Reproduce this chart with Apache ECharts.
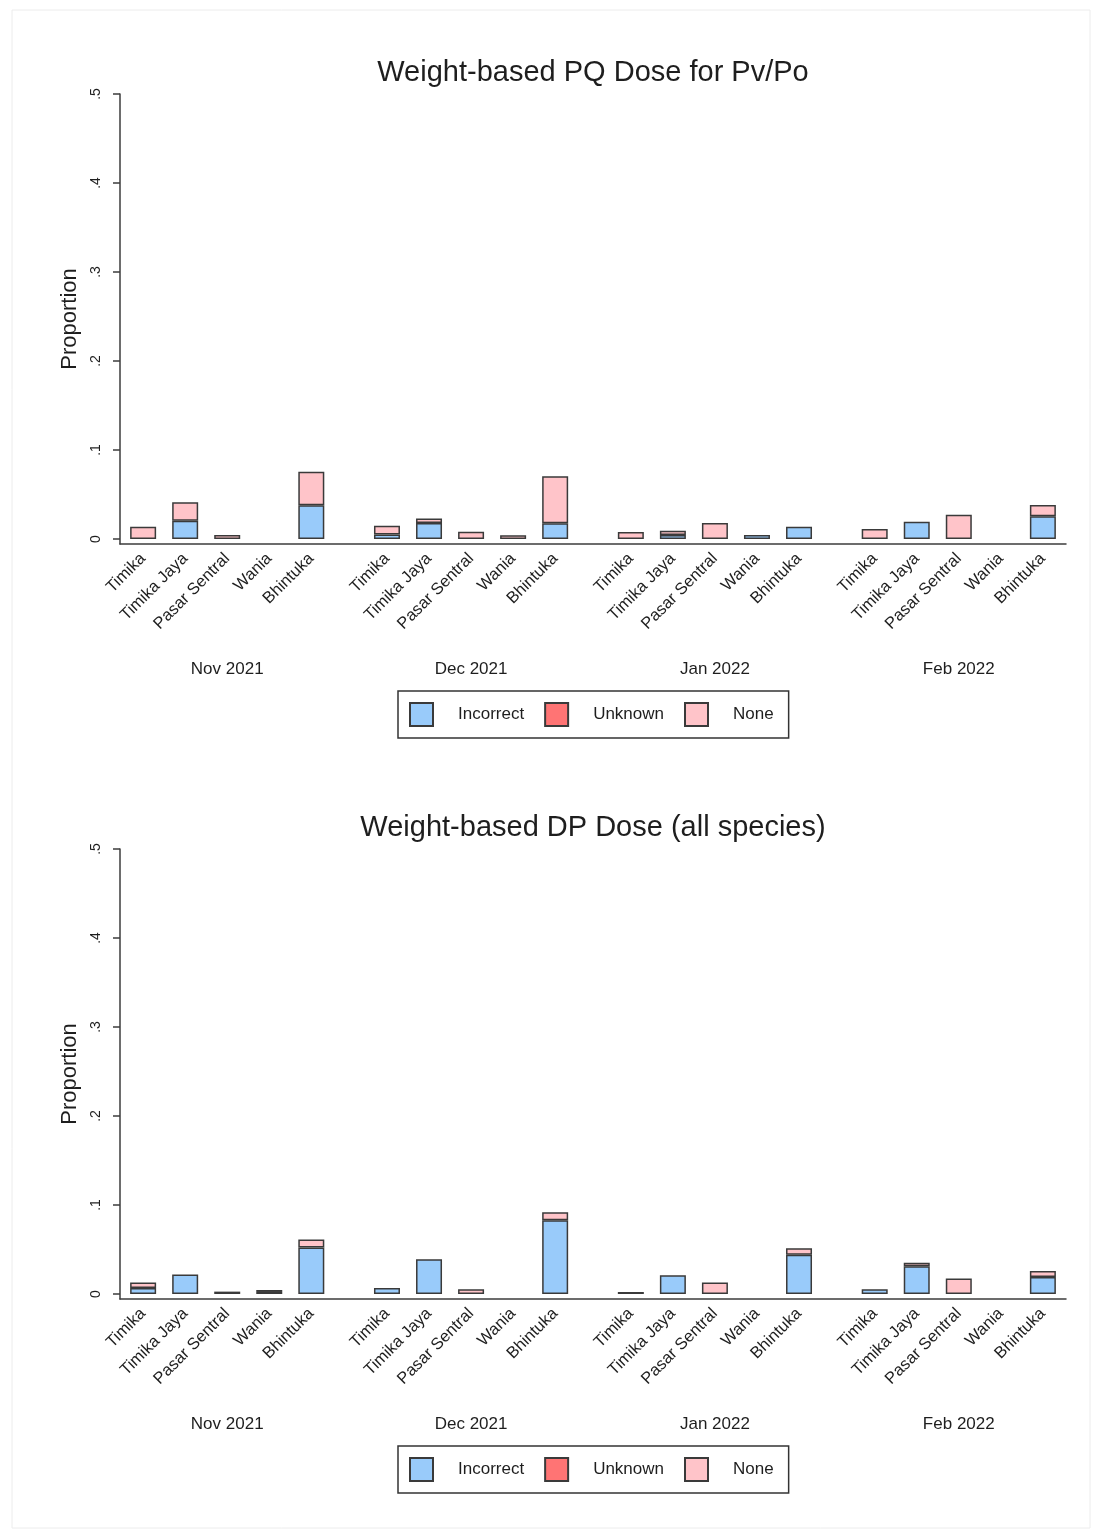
<!DOCTYPE html>
<html>
<head>
<meta charset="utf-8">
<title>Weight-based dosing</title>
<script src="https://cdn.jsdelivr.net/npm/echarts@6/dist/echarts.min.js"></script>
<style>
  html, body { margin: 0; padding: 0; background: #ffffff; }
  #chart { width: 1093px; height: 1535px; }
</style>
</head>
<body>
<div id="chart"></div>
<script>
// Health facilities (one bar each) and the survey months they are grouped by
const sites = ['Timika', 'Timika Jaya', 'Pasar Sentral', 'Wania', 'Bhintuka'];
const months = ['Nov 2021', 'Dec 2021', 'Jan 2022', 'Feb 2022'];
const categories = ['Incorrect', 'Unknown', 'None'];

const yTickValues = [0, 0.1, 0.2, 0.3, 0.4, 0.5];
const yTickLabels = ['0', '.1', '.2', '.3', '.4', '.5'];

const panelTitles = ['Weight-based PQ Dose for Pv/Po', 'Weight-based DP Dose (all species)'];

// Proportions, month by month, sites in the order above
const pqIncorrect = [0, 0.0205, 0, 0, 0.038,
                     0.005, 0.018, 0, 0, 0.0177,
                     0, 0.0045, 0, 0.0045, 0.0138,
                     0, 0.0195, 0, 0, 0.0255];
const pqUnknown   = [0, 0, 0, 0, 0,
                     0, 0, 0, 0, 0,
                     0, 0, 0, 0, 0,
                     0, 0, 0, 0, 0];
const pqNone      = [0.0138, 0.0207, 0.0045, 0, 0.0377,
                     0.010, 0.005, 0.0082, 0.0041, 0.0527,
                     0.0079, 0.0049, 0.018, 0, 0,
                     0.0112, 0, 0.0273, 0, 0.0127];

const dpIncorrect = [0.0068, 0.0219, 0, 0.0023, 0.0523,
                     0.0068, 0.0391, 0, 0, 0.0828,
                     0.0023, 0.021, 0, 0, 0.044,
                     0.0053, 0.0312, 0, 0, 0.0192];
const dpUnknown   = [0, 0, 0, 0, 0,
                     0, 0, 0, 0, 0,
                     0, 0, 0, 0, 0,
                     0, 0, 0, 0, 0];
const dpNone      = [0.006, 0, 0.0027, 0.0022, 0.009,
                     0, 0, 0.0053, 0, 0.009,
                     0, 0, 0.0128, 0, 0.0075,
                     0, 0.0038, 0.0174, 0, 0.0068];

const panels = [
  { title: panelTitles[0], values: [pqIncorrect, pqUnknown, pqNone] },
  { title: panelTitles[1], values: [dpIncorrect, dpUnknown, dpNone] }
];

// ---- layout ----
const FONT = "'Liberation Sans', Arial, Helvetica, sans-serif";
const INK = '#1e1e1e';
const AXIS = '#3c3c3c';
const EDGE = '#3a3a3a';
const FILL = { Incorrect: '#99cbfa', Unknown: '#ff7474', None: '#ffc4c9' };

// The x axis is a fine band scale: bars sit every BAR_STEP bands and the
// month groups start every GROUP_STEP bands, which leaves a wider gap between months.
const N_BANDS = 225, FIRST = 5, BAR_STEP = 10, GROUP_STEP = 58;
const bands = Array.from({ length: N_BANDS }, (_, k) => 'b' + k);
const barBand = [];                  // band index of each bar, in data order
const siteAt = {}, monthAt = {};
months.forEach((m, g) => {
  sites.forEach((s, i) => {
    const b = FIRST + g * GROUP_STEP + i * BAR_STEP;
    barBand.push(b);
    siteAt[b] = s;
  });
  monthAt[FIRST + g * GROUP_STEP + 2 * BAR_STEP] = m;
});

const Y_MIN = -0.0056;              // small gap between zero and the x axis line
const PANEL_TOP = [94, 849];
const PLOT_H = 450;

function yLabel(v) {
  const k = yTickValues.findIndex(t => Math.abs(t - v) < 1e-9);
  return k < 0 ? '' : yTickLabels[k];
}
function spread(vals) {
  const out = new Array(N_BANDS).fill('-');
  barBand.forEach((b, k) => {
    out[b] = vals[k] === 0 ? { value: 0, itemStyle: { borderWidth: 0 } } : vals[k];
  });
  return out;
}

const grid = [], xAxis = [], yAxis = [], series = [], legend = [], title = [];

panels.forEach((p, pi) => {
  const top = PANEL_TOP[pi];
  grid.push({ left: 120, width: 946, top: top, height: PLOT_H });

  title.push({
    text: p.title,
    left: 588, top: top - 41, textAlign: 'center',
    textStyle: { fontFamily: FONT, fontSize: 29, fontWeight: 'normal', color: INK }
  });

  // site names under every bar
  xAxis.push({
    gridIndex: pi, type: 'category', data: bands, boundaryGap: true, position: 'bottom',
    axisLine: { show: true, onZero: false, lineStyle: { color: AXIS, width: 1.5 } },
    axisTick: { show: false },
    splitLine: { show: false },
    axisLabel: {
      interval: (idx) => siteAt[idx] !== undefined,
      formatter: (val, idx) => siteAt[idx] || '',
      rotate: 45, margin: 12,
      fontFamily: FONT, fontSize: 16.5, color: INK
    }
  });
  // month names under each group
  xAxis.push({
    gridIndex: pi, type: 'category', data: bands, boundaryGap: true, position: 'bottom',
    axisLine: { show: false }, axisTick: { show: false }, splitLine: { show: false },
    axisLabel: {
      interval: (idx) => monthAt[idx] !== undefined,
      formatter: (val, idx) => monthAt[idx] || '',
      margin: 117,
      fontFamily: FONT, fontSize: 17, color: INK
    }
  });

  yAxis.push({
    gridIndex: pi, type: 'value', min: Y_MIN, max: 0.5,
    axisLine: { show: true, onZero: false, lineStyle: { color: AXIS, width: 1.5 } },
    axisTick: { show: true, length: 7, customValues: yTickValues, lineStyle: { color: AXIS, width: 1.5 } },
    axisLabel: {
      customValues: yTickValues, formatter: yLabel, rotate: 90, margin: 17,
      fontFamily: FONT, fontSize: 14, color: INK
    },
    splitLine: { show: false },
    name: 'Proportion', nameLocation: 'middle', nameRotate: 90, nameGap: 33,
    nameTextStyle: { fontFamily: FONT, fontSize: 22, color: INK }
  });

  categories.forEach((c, ci) => {
    series.push({
      name: c, type: 'bar', stack: 'panel' + pi,
      xAxisIndex: pi * 2, yAxisIndex: pi,
      barWidth: 26,
      itemStyle: { color: FILL[c], borderColor: EDGE, borderWidth: 1.5 },
      emphasis: { disabled: true },
      data: spread(p.values[ci])
    });
  });

  legend.push({
    data: categories, left: 398, top: top + 597,
    orient: 'horizontal', icon: 'rect',
    itemWidth: 23, itemHeight: 23, itemGap: 20,
    padding: [11, 15, 11, 11],
    borderColor: '#333333', borderWidth: 1.5,
    selectedMode: false,
    textStyle: { fontFamily: FONT, fontSize: 17, color: INK, padding: [0, 0, 0, 20] }
  });
});

const chart = echarts.init(document.getElementById('chart'), null, { renderer: 'canvas' });
chart.setOption({
  backgroundColor: '#ffffff',
  animation: false,
  title: title,
  grid: grid,
  xAxis: xAxis,
  yAxis: yAxis,
  legend: legend,
  series: series,
  graphic: [{
    type: 'rect', silent: true, z: -1,
    shape: { x: 12, y: 10, width: 1078, height: 1518 },
    style: { fill: 'none', stroke: '#ececec', lineWidth: 1 }
  }]
});
</script>
</body>
</html>
